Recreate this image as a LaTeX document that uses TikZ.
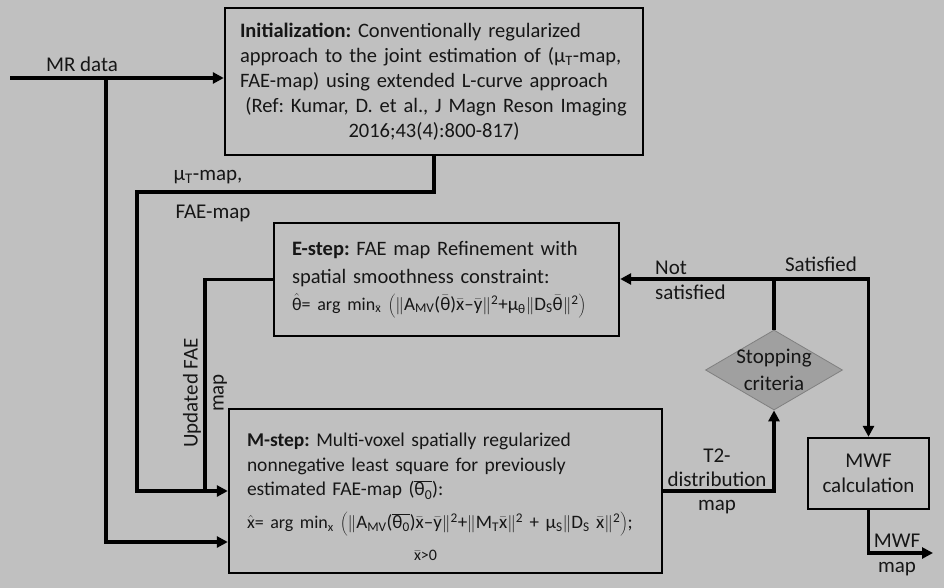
\documentclass[tikz,border=0pt]{standalone}
\usepackage{fontspec}
\setmainfont{Carlito}
\usetikzlibrary{shapes.geometric,arrows.meta}
\definecolor{bggray}{RGB}{192,192,192}
\definecolor{diagray}{RGB}{160,160,160}
\definecolor{diaedge}{RGB}{128,128,128}
\definecolor{inkgray}{RGB}{22,22,22}
\frenchspacing
\newcommand\sub[1]{\textsubscript{#1}}
\newcommand\ovl[1]{\ensuremath{\bar{\mbox{#1}}}}
\newcommand\hatl[1]{\ensuremath{\hat{\mbox{#1}}}}
\newcommand\nrm{\ensuremath{\Big\|}}
\newcommand\eform{\mbox{{\fontsize{18}{20}\selectfont\hatl{θ}= arg min\sub{\ovl{x}}} {\fontsize{19}{22}\selectfont\ensuremath{\Bigg(}\nrm A\sub{MV}(\ovl{θ})\ovl{x}--\ovl{y}\nrm\textsuperscript{2}+μ\sub{θ}\nrm D\sub{S}\ovl{θ}\nrm\textsuperscript{2}\ensuremath{\Bigg)}}}}
\newcommand\mform{\mbox{{\fontsize{18}{20}\selectfont\hatl{x}= arg min\sub{x}} {\fontsize{19}{22}\selectfont\ensuremath{\Bigg(}\nrm A\sub{MV}(\ensuremath{\overline{\mbox{θ\sub{0}}}})\ovl{x}--\ovl{y}\nrm\textsuperscript{2}+\nrm M\sub{T}\ovl{x}\nrm\textsuperscript{2} + μ\sub{S}\nrm D\sub{S} \ovl{x}\nrm\textsuperscript{2}\ensuremath{\Bigg)};}}}
\begin{document}
\begin{tikzpicture}[x=1pt,y=-1pt,
    box/.style={draw, line width=2.4pt, inner sep=0pt, text=inkgray, font=\fontsize{20.5}{25}\selectfont},
    flow/.style={line width=3.6pt, -{Triangle[length=11pt,width=11pt]}},
    link/.style={line width=3.6pt},
    lbl/.style={text=inkgray, font=\fontsize{21}{25}\selectfont, inner sep=0pt, align=center}]
  \fill[bggray] (0,0) rectangle (944,588);
  \useasboundingbox (0,0) rectangle (944,588);
  % boxes
  \node[box, minimum width=418pt, minimum height=147pt, text width=388pt, align=left] (init) at (434,81.5) {\textbf{Initialization:} Conventionally regularized\\approach to the joint estimation of (μ\sub{T}-map,\\FAE-map) using extended L-curve approach\\\makebox[\linewidth]{\hspace{4pt}(Ref: Kumar, D. et al., J Magn Reson Imaging}\\\makebox[\linewidth]{2016;43(4):800-817)}};
  \node[box, minimum width=345pt, minimum height=113pt, text width=309pt, align=left] (estep) at (446.5,279.5) {\textbf{E-step:} FAE map Refinement with\\[3pt]spatial smoothness constraint:\\[2pt]\eform};
  \node[box, font=\fontsize{19.5}{24.5}\selectfont, minimum width=433pt, minimum height=164pt, text width=397pt, align=left] (mstep) at (445.5,491) {\rule{0pt}{26pt}\textbf{M-step:} Multi-voxel spatially regularized\\nonnegative least square for previously\\estimated FAE-map (\ensuremath{\overline{\mbox{θ\sub{0}}}}):\\[8pt]\mform\\[8pt]\makebox[\linewidth]{\hspace{-40pt}\fontsize{16}{18}\selectfont\ovl{x}>0}};
  \node[diamond, draw=diaedge, line width=0.8pt, fill=diagray, minimum width=137pt, minimum height=80pt, inner sep=0pt] (stop) at (774,370) {};
  \node[lbl, font=\fontsize{21}{27}\selectfont] (stoptxt) at (stop.center) {Stopping\\criteria};
  \node[box, font=\fontsize{21}{25}\selectfont, minimum width=121pt, minimum height=71pt, align=center] (mwf) at (868.5,473.5) {MWF\\calculation};
  % connectors
  \coordinate (mrin) at (10,78);
  \coordinate (mrsplit) at (106,78);
  \coordinate (mrlow) at (mstep.west |- 0,542);
  \coordinate (bendA) at (137,192);
  \coordinate (joinB) at (205,491);
  \coordinate (junc) at (774,279);
  \coordinate (mwfout) at (933,553);
  \draw[flow] (mrin) -- (mrin -| init.west);
  \draw[flow] (mrsplit) |- (mrlow);
  \draw[flow] (init.south) |- (bendA) |- (mstep.west);
  \draw[link] (estep.west) -| (joinB);
  \draw[link] (stop.north) -- (junc);
  \draw[flow] (junc) -- (junc -| estep.east);
  \draw[flow] (junc) -| (mwf.north);
  \draw[flow] (mstep.east) -| (stop.south);
  \draw[flow] (mwf.south) |- (mwfout);
  % labels
  \node[lbl] (mrlbl) at (82,64) {MR data};
  \node[lbl] (mulbl) at (208,177) {μ\sub{T}-map,};
  \node[lbl] (faelbl) at (213,213) {FAE-map};
  \node[lbl, rotate=90, font=\fontsize{21}{26}\selectfont] (updlbl) at (205,393) {Updated FAE\\map};
  \node[lbl, align=left, anchor=west] (notlbl) at (655,280) {Not\\satisfied};
  \node[lbl] (satlbl) at (821,264) {Satisfied};
  \node[lbl, font=\fontsize{21}{24}\selectfont] (t2lbl) at (717,481) {T2-\\distribution\\map};
  \node[lbl] (mwflbl) at (897,554.5) {MWF\\map};
\end{tikzpicture}
\end{document}
